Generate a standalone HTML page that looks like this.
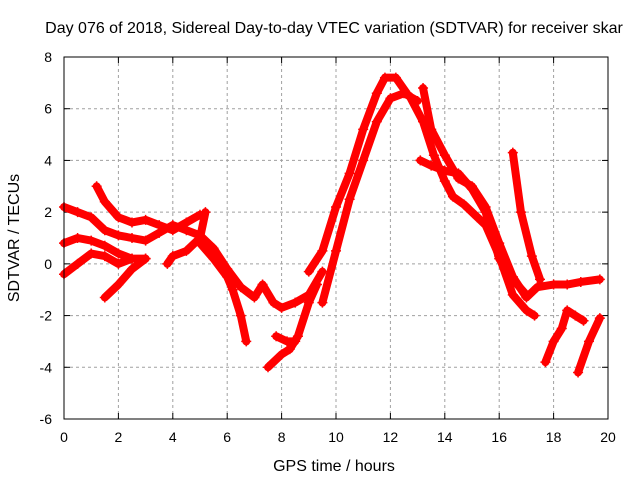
<!DOCTYPE html>
<html><head><meta charset="utf-8"><style>
body{margin:0;background:#fff}
svg text{font-family:"Liberation Sans",sans-serif;font-size:14px;fill:#000}
svg text.big{font-size:16px}
</style></head><body>
<svg id="c" width="640" height="480">
<text class="big" x="334" y="33" text-anchor="middle">Day 076 of 2018, Sidereal Day-to-day VTEC variation (SDTVAR) for receiver skar</text>
<text class="big" x="334" y="471" text-anchor="middle">GPS time / hours</text>
<text class="big" transform="translate(19,238) rotate(-90)" text-anchor="middle">SDTVAR / TECUs</text>
<g id="grid"></g><g id="ticks"></g><g id="marks"></g>
<rect x="64" y="57" width="544" height="362" fill="none" stroke="#000" stroke-width="1"/>
</svg>
<script>
const xTicks=[0,2,4,6,8,10,12,14,16,18,20];
const yTicks=[-6,-4,-2,0,2,4,6,8];
const track1=[[9,-0.3],[9.5,0.5],[10,2.2],[10.5,3.5],[11,5.2],[11.5,6.6],[11.8,7.2],[12.2,7.2],[12.6,6.6]];
const track2=[[9.5,-1.5],[10,0.5],[10.5,2.5],[11,4.0],[11.5,5.5],[12,6.4],[12.5,6.6],[13,6.3]];
const track3=[[13.2,6.8],[13.5,5.2],[14,4.2],[14.5,3.3],[15,3.0],[15.5,2.2],[16,0.8],[16.5,-0.5],[17,-1.3],[17.4,-0.9],[18,-0.8],[18.5,-0.8],[19,-0.7],[19.7,-0.6]];
const track4=[[12.7,6.5],[13.2,5.5],[13.6,4.2],[14,3.2],[14.3,2.6],[14.7,2.3],[15.2,1.8],[15.5,1.5],[16,0.3],[16.5,-1.2],[17,-1.8],[17.3,-2.0]];
const track5=[[13.1,4.0],[13.5,3.8],[14,3.6],[14.5,3.5],[15,2.9],[15.5,2.0],[16,0.2],[16.5,-0.6],[17,-1.2]];
const track6=[[16.5,4.3],[16.8,2.0],[17.2,0.3],[17.5,-0.6]];
const track7=[[17.7,-3.8],[18,-3.0],[18.3,-2.5],[18.5,-1.8],[18.8,-2.0],[19.1,-2.2]];
const track8=[[18.9,-4.2],[19.3,-3.0],[19.7,-2.1]];
const track9=[[0,2.2],[0.5,2.0],[1,1.8],[1.5,1.3],[2,1.1],[2.5,1.0],[3,0.9],[3.5,1.2],[4,1.5],[4.5,1.3],[5,1.1],[5.5,0.6],[6,-0.2],[6.5,-0.9],[7,-1.3],[7.3,-0.8],[7.7,-1.5],[8,-1.7],[8.5,-1.5],[9,-1.2],[9.5,-0.3]];
const track10=[[1.2,3.0],[1.5,2.4],[2,1.8],[2.5,1.6],[3,1.7],[3.5,1.5],[4,1.3],[4.5,1.6],[5,1.9]];
const track11=[[0,0.8],[0.5,1.0],[1,0.9],[1.5,0.7],[2,0.4],[2.5,0.2]];
const track12=[[0,-0.4],[0.5,0.0],[1,0.4],[1.5,0.3],[2,0.0],[2.5,0.2],[3,0.2]];
const track13=[[1.5,-1.3],[2,-0.8],[2.5,-0.2],[3,0.2]];
const track14=[[3.8,0],[4,0.3],[4.5,0.5],[5,1.0],[5.2,2.0]];
const track15=[[5,0.8],[5.5,0.2],[6,-0.5],[6.2,-1.0],[6.5,-2.0],[6.7,-3.0]];
const track16=[[7.5,-4.0],[8,-3.5],[8.3,-3.3],[8.6,-2.8],[9,-1.5],[9.3,-0.8]];
const track17=[[7.8,-2.8],[8.2,-3.0],[8.5,-3.0]];
const tracks=[track1,track2,track3,track4,track5,track6,track7,track8,track9,track10,track11,track12,track13,track14,track15,track16,track17];
const NS="http://www.w3.org/2000/svg";
const xs=t=>64+t*27.2, ys=v=>57+(8-v)*362/14;
const grid=document.getElementById('grid'),ticks=document.getElementById('ticks'),marks=document.getElementById('marks');
function mk(tag,a,p){const e=document.createElementNS(NS,tag);for(const k in a)e.setAttribute(k,a[k]);p.appendChild(e);return e;}
xTicks.forEach(t=>{const x=xs(t);
 if(t>0&&t<20){const g=mk('line',{x1:x,x2:x,y1:57,y2:419,stroke:'#a0a0a0','stroke-dasharray':'3,3'},grid);
 
 }
 const l=mk('text',{x:x,y:442,'text-anchor':'middle'},ticks);l.textContent=t;
 
 
 mk('line',{x1:x,x2:x,y1:419,y2:413,stroke:'#000'},ticks);mk('line',{x1:x,x2:x,y1:57,y2:63,stroke:'#000'},ticks);});
yTicks.forEach(v=>{const y=ys(v);
 if(v>-6&&v<8){const g=mk('line',{x1:64,x2:608,y1:y,y2:y,stroke:'#a0a0a0','stroke-dasharray':'3,3'},grid);
 
 }
 const l=mk('text',{x:52,y:y+5,'text-anchor':'end'},ticks);l.textContent=v;
 
 
 mk('line',{x1:64,x2:70,y1:y,y2:y,stroke:'#000'},ticks);mk('line',{x1:608,x2:602,y1:y,y2:y,stroke:'#000'},ticks);});
tracks.forEach((tr,i)=>{
 const p=mk('polyline',{points:tr.map(d=>xs(d[0])+','+ys(d[1])).join(' '),fill:'none',stroke:'#f00','stroke-width':8,'stroke-linejoin':'round','stroke-linecap':'round'},marks);
 
 
 tr.forEach(d=>{const x=xs(d[0]),y=ys(d[1]);
  const m=mk('path',{d:`M${x-5},${y}h10M${x},${y-5}v10`,stroke:'#f00','stroke-width':1.5},marks);
  
  });
});
</script>
</body></html>
